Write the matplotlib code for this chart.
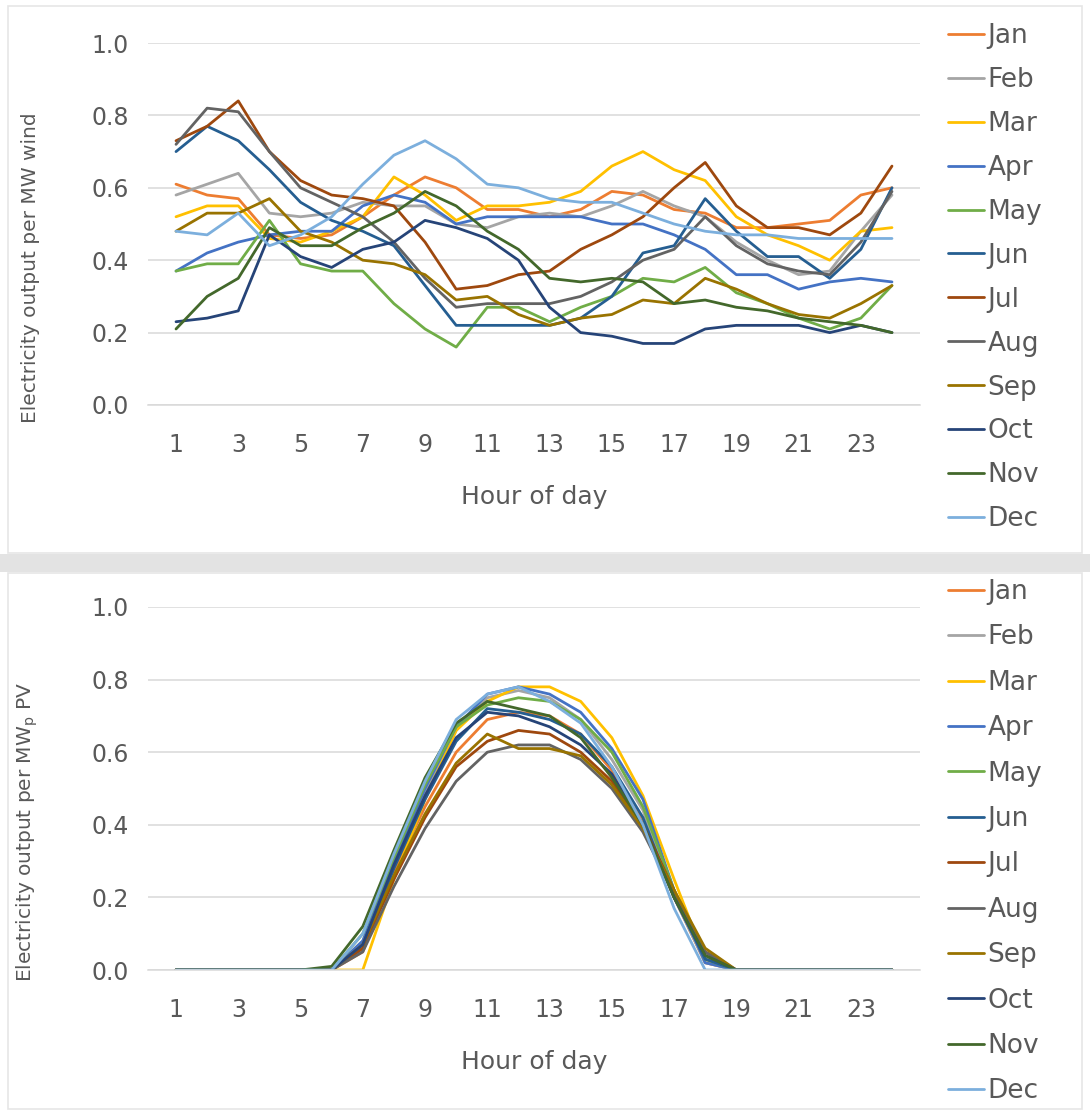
import matplotlib
matplotlib.use("Agg")
import matplotlib.pyplot as plt
from matplotlib.patches import Rectangle

plt.rcParams["font.family"] = ["DejaVu Sans"]

# ---------------------------------------------------------------------------
# Data
# ---------------------------------------------------------------------------
hours = list(range(1, 25))
months = ["Jan", "Feb", "Mar", "Apr", "May", "Jun",
          "Jul", "Aug", "Sep", "Oct", "Nov", "Dec"]
colors = ["#ED7D31", "#A5A5A5", "#FFC000", "#4472C4", "#70AD47", "#255E91",
          "#9E480E", "#636363", "#997300", "#264478", "#43682B", "#7CAFDD"]

wind_jan = [0.61, 0.58, 0.57, 0.47, 0.46, 0.47, 0.52, 0.58, 0.63, 0.60, 0.54, 0.54,
            0.52, 0.54, 0.59, 0.58, 0.54, 0.53, 0.49, 0.49, 0.50, 0.51, 0.58, 0.60]
wind_feb = [0.58, 0.61, 0.64, 0.53, 0.52, 0.53, 0.56, 0.55, 0.55, 0.50, 0.49, 0.52,
            0.53, 0.52, 0.55, 0.59, 0.55, 0.52, 0.45, 0.40, 0.36, 0.37, 0.48, 0.58]
wind_mar = [0.52, 0.55, 0.55, 0.46, 0.45, 0.48, 0.52, 0.63, 0.58, 0.51, 0.55, 0.55,
            0.56, 0.59, 0.66, 0.70, 0.65, 0.62, 0.52, 0.47, 0.44, 0.40, 0.48, 0.49]
wind_apr = [0.37, 0.42, 0.45, 0.47, 0.48, 0.48, 0.55, 0.58, 0.56, 0.50, 0.52, 0.52,
            0.52, 0.52, 0.50, 0.50, 0.47, 0.43, 0.36, 0.36, 0.32, 0.34, 0.35, 0.34]
wind_may = [0.37, 0.39, 0.39, 0.51, 0.39, 0.37, 0.37, 0.28, 0.21, 0.16, 0.27, 0.27,
            0.23, 0.27, 0.30, 0.35, 0.34, 0.38, 0.31, 0.28, 0.24, 0.21, 0.24, 0.33]
wind_jun = [0.70, 0.77, 0.73, 0.65, 0.56, 0.51, 0.48, 0.44, 0.33, 0.22, 0.22, 0.22,
            0.22, 0.24, 0.30, 0.42, 0.44, 0.57, 0.48, 0.41, 0.41, 0.35, 0.43, 0.60]
wind_jul = [0.73, 0.77, 0.84, 0.70, 0.62, 0.58, 0.57, 0.55, 0.45, 0.32, 0.33, 0.36,
            0.37, 0.43, 0.47, 0.52, 0.60, 0.67, 0.55, 0.49, 0.49, 0.47, 0.53, 0.66]
wind_aug = [0.72, 0.82, 0.81, 0.70, 0.60, 0.56, 0.52, 0.45, 0.35, 0.27, 0.28, 0.28,
            0.28, 0.30, 0.34, 0.40, 0.43, 0.52, 0.44, 0.39, 0.37, 0.36, 0.45, 0.59]
wind_sep = [0.48, 0.53, 0.53, 0.57, 0.48, 0.45, 0.40, 0.39, 0.36, 0.29, 0.30, 0.25,
            0.22, 0.24, 0.25, 0.29, 0.28, 0.35, 0.32, 0.28, 0.25, 0.24, 0.28, 0.33]
wind_oct = [0.23, 0.24, 0.26, 0.47, 0.41, 0.38, 0.43, 0.45, 0.51, 0.49, 0.46, 0.40,
            0.27, 0.20, 0.19, 0.17, 0.17, 0.21, 0.22, 0.22, 0.22, 0.20, 0.22, 0.20]
wind_nov = [0.21, 0.30, 0.35, 0.49, 0.44, 0.44, 0.49, 0.53, 0.59, 0.55, 0.48, 0.43,
            0.35, 0.34, 0.35, 0.34, 0.28, 0.29, 0.27, 0.26, 0.24, 0.23, 0.22, 0.20]
wind_dec = [0.48, 0.47, 0.53, 0.44, 0.47, 0.52, 0.61, 0.69, 0.73, 0.68, 0.61, 0.60,
            0.57, 0.56, 0.56, 0.53, 0.50, 0.48, 0.47, 0.47, 0.46, 0.46, 0.46, 0.46]

#           h1-h5 night      h6    h7    h8    h9    h10   h11   h12   h13   h14   h15   h16   h17   h18   h19-h24
pv_jan = [0, 0, 0, 0, 0, 0.00, 0.05, 0.27, 0.45, 0.60, 0.69, 0.71, 0.70, 0.65, 0.55, 0.41, 0.20, 0.02, 0, 0, 0, 0, 0, 0]
pv_feb = [0, 0, 0, 0, 0, 0.00, 0.08, 0.29, 0.49, 0.66, 0.75, 0.77, 0.75, 0.69, 0.58, 0.44, 0.20, 0.02, 0, 0, 0, 0, 0, 0]
pv_mar = [0, 0, 0, 0, 0, 0.00, 0.00, 0.25, 0.47, 0.66, 0.74, 0.78, 0.78, 0.74, 0.64, 0.48, 0.25, 0.03, 0, 0, 0, 0, 0, 0]
pv_apr = [0, 0, 0, 0, 0, 0.00, 0.08, 0.30, 0.50, 0.67, 0.76, 0.78, 0.76, 0.71, 0.61, 0.47, 0.22, 0.02, 0, 0, 0, 0, 0, 0]
pv_may = [0, 0, 0, 0, 0, 0.00, 0.10, 0.31, 0.51, 0.67, 0.73, 0.75, 0.74, 0.69, 0.60, 0.45, 0.22, 0.03, 0, 0, 0, 0, 0, 0]
pv_jun = [0, 0, 0, 0, 0, 0.00, 0.06, 0.28, 0.47, 0.63, 0.72, 0.71, 0.69, 0.65, 0.56, 0.42, 0.20, 0.03, 0, 0, 0, 0, 0, 0]
pv_jul = [0, 0, 0, 0, 0, 0.00, 0.06, 0.25, 0.42, 0.56, 0.63, 0.66, 0.65, 0.60, 0.52, 0.40, 0.22, 0.05, 0, 0, 0, 0, 0, 0]
pv_aug = [0, 0, 0, 0, 0, 0.00, 0.05, 0.23, 0.39, 0.52, 0.60, 0.62, 0.62, 0.58, 0.50, 0.38, 0.21, 0.05, 0, 0, 0, 0, 0, 0]
pv_sep = [0, 0, 0, 0, 0, 0.00, 0.07, 0.26, 0.43, 0.57, 0.65, 0.61, 0.61, 0.59, 0.51, 0.39, 0.22, 0.06, 0, 0, 0, 0, 0, 0]
pv_oct = [0, 0, 0, 0, 0, 0.00, 0.07, 0.29, 0.48, 0.64, 0.71, 0.70, 0.67, 0.62, 0.54, 0.40, 0.20, 0.04, 0, 0, 0, 0, 0, 0]
pv_nov = [0, 0, 0, 0, 0, 0.01, 0.12, 0.33, 0.53, 0.68, 0.74, 0.72, 0.70, 0.64, 0.53, 0.40, 0.20, 0.04, 0, 0, 0, 0, 0, 0]
pv_dec = [0, 0, 0, 0, 0, 0.00, 0.10, 0.32, 0.52, 0.69, 0.76, 0.78, 0.74, 0.68, 0.56, 0.40, 0.17, 0.00, 0, 0, 0, 0, 0, 0]

wind = [wind_jan, wind_feb, wind_mar, wind_apr, wind_may, wind_jun,
        wind_jul, wind_aug, wind_sep, wind_oct, wind_nov, wind_dec]
pv = [pv_jan, pv_feb, pv_mar, pv_apr, pv_may, pv_jun,
      pv_jul, pv_aug, pv_sep, pv_oct, pv_nov, pv_dec]

TEXT = "#595959"
GRID = "#D9D9D9"

# ---------------------------------------------------------------------------
# Figure and panel frames
# ---------------------------------------------------------------------------
W, H = 1090, 1111
fig = plt.figure(figsize=(W / 100, H / 100), dpi=100, facecolor="white")


def px(x0, y0, x1, y1):
    """pixel box (top-left origin) -> figure-fraction rect"""
    return [x0 / W, 1 - y1 / H, (x1 - x0) / W, (y1 - y0) / H]


# gray band between the two charts and thin frames round each
fig.patches.append(Rectangle((0, 1 - 572 / H), 1, 18 / H, transform=fig.transFigure,
                             facecolor="#E3E3E3", edgecolor="none", zorder=0))
for top, bot in [(6, 553), (573, 1109)]:
    fig.patches.append(Rectangle((8 / W, 1 - bot / H), 1 - 16 / W, (bot - top) / H,
                                 transform=fig.transFigure, facecolor="none",
                                 edgecolor="#E6E6E6", linewidth=1.2, zorder=0))


def draw_panel(rect, series, ylabel, legend_top, legend_step):
    ax = fig.add_axes(rect)
    for name, col, vals in zip(months, colors, series):
        ax.plot(hours, vals, color=col, linewidth=2.0, label=name,
                solid_joinstyle="round", solid_capstyle="round")
    ax.set_xlim(0.1, 24.9)
    ax.set_ylim(0, 1.0)
    ax.set_yticks([0.0, 0.2, 0.4, 0.6, 0.8, 1.0])
    ax.set_yticklabels([f"{v:.1f}" for v in [0.0, 0.2, 0.4, 0.6, 0.8, 1.0]])
    ax.set_xticks(list(range(1, 24, 2)))
    ax.tick_params(axis="both", length=0, colors=TEXT, labelsize=17)
    ax.tick_params(axis="x", pad=20)
    ax.tick_params(axis="y", pad=14)
    ax.grid(axis="y", color=GRID, linewidth=1.1)
    ax.set_axisbelow(True)
    for side in ["top", "right", "left"]:
        ax.spines[side].set_visible(False)
    ax.spines["bottom"].set_color(GRID)
    ax.spines["bottom"].set_linewidth(1.1)
    ax.set_xlabel("Hour of day", color=TEXT, fontsize=18, labelpad=20)
    ax.set_ylabel(ylabel, color=TEXT, fontsize=14.5)
    ax.yaxis.set_label_coords(-0.14, 0.38)
    leg = ax.legend(loc="upper left",
                    bbox_to_anchor=(948 / W, 1 - legend_top / H),
                    bbox_transform=fig.transFigure, frameon=False,
                    fontsize=19, handlelength=1.35, handletextpad=0.15,
                    labelspacing=legend_step, borderpad=0, borderaxespad=0)
    for t in leg.get_texts():
        t.set_color(TEXT)
    return ax


draw_panel(px(148, 43, 920, 405), wind, "Electricity output per MW wind", 23, 0.68)
draw_panel(px(148, 607, 920, 970), pv, "Electricity output per MW$_{\\rm p}$ PV", 579, 0.735)

fig.savefig("out.png", dpi=100, facecolor="white")
